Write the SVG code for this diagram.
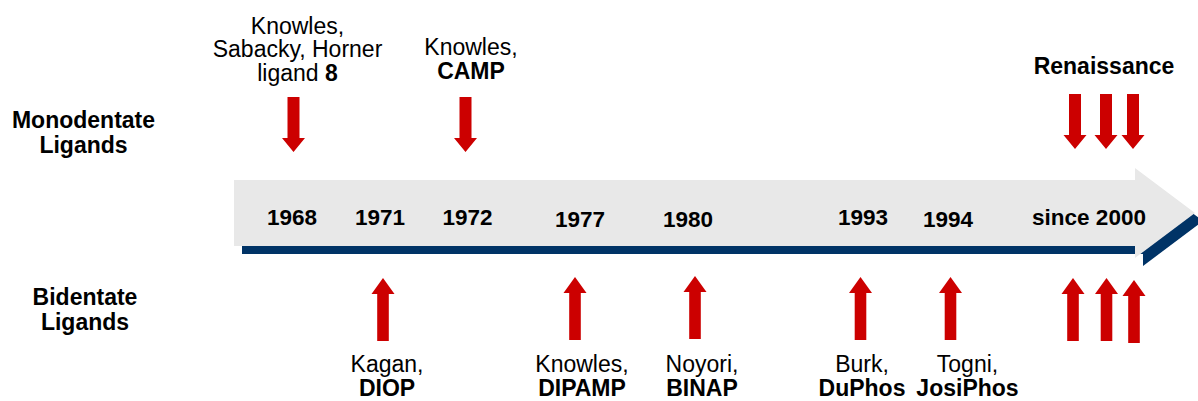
<svg xmlns="http://www.w3.org/2000/svg" width="1198" height="401" viewBox="0 0 1198 401">
<style>
text{font-family:"Liberation Sans",Arial,sans-serif;font-size:23px;fill:#000;text-anchor:middle}
.b{font-weight:bold}
.yr{font-weight:bold;font-size:22.5px}
.red{fill:#cc0000}
</style>
<defs>
<path id="dn" d="M-6,-55 H6 V-14 H11.5 L0,0 L-11.5,-14 H-6 Z"/>
<path id="up" d="M-5.8,63 H5.8 V16 H11.5 L0,0 L-11.5,16 H-5.8 Z"/>
</defs>
<rect width="1198" height="401" fill="#fff"/>
<g id="timeline">
<polygon fill="#003366" points="242,188 1143,188 1143,176 1203,221 1143,266 1143,254 242,254"/>
<polygon fill="#e8e8e8" points="234,180 1135,180 1135,168 1195,213 1135,258 1135,246 234,246"/>
</g>
<g id="years">
<text class="yr" x="292" y="225">1968</text>
<text class="yr" x="380" y="225">1971</text>
<text class="yr" x="467.5" y="225">1972</text>
<text class="yr" x="580" y="227">1977</text>
<text class="yr" x="688" y="227">1980</text>
<text class="yr" x="863" y="225">1993</text>
<text class="yr" x="948" y="227">1994</text>
<text class="yr" x="1089" y="225">since 2000</text>
</g>
<g id="label-mono"><text class="b" x="83.5" y="128">Monodentate<tspan x="83.5" dy="25">Ligands</tspan></text></g>
<g id="label-bi"><text class="b" x="85" y="305">Bidentate<tspan x="85" dy="25">Ligands</tspan></text></g>
<g id="n1968"><text x="297.5" y="33.5">Knowles,<tspan x="297.5" dy="23.5">Sabacky, Horner</tspan><tspan x="297.5" dy="23.5">ligand <tspan class="b">8</tspan></tspan></text></g>
<g id="n1972"><text x="471" y="55">Knowles,<tspan class="b" x="471" dy="24">CAMP</tspan></text></g>
<g id="renaissance"><text class="b" x="1104" y="74">Renaissance</text></g>
<g id="n1971"><text x="387" y="372">Kagan,<tspan class="b" x="387" dy="24">DIOP</tspan></text></g>
<g id="n1977"><text x="582" y="372">Knowles,<tspan class="b" x="582" dy="24">DIPAMP</tspan></text></g>
<g id="n1980"><text x="702" y="372">Noyori,<tspan class="b" x="702" dy="24">BINAP</tspan></text></g>
<g id="n1993"><text x="862" y="372">Burk,<tspan class="b" x="862" dy="24">DuPhos</tspan></text></g>
<g id="n1994"><text x="967.5" y="372">Togni,<tspan class="b" x="967.5" dy="24">JosiPhos</tspan></text></g>
<g id="connectors" class="red">
<use href="#dn" x="293.5" y="152"/>
<use href="#dn" x="465.5" y="152"/>
<use href="#dn" x="1075" y="149"/>
<use href="#dn" x="1106" y="149"/>
<use href="#dn" x="1133" y="149"/>
<use href="#up" x="383" y="278"/>
<use href="#up" x="575" y="277"/>
<use href="#up" x="695" y="276"/>
<use href="#up" x="860.5" y="277"/>
<use href="#up" x="950.5" y="277"/>
<use href="#up" x="1073" y="278"/>
<use href="#up" x="1106.5" y="278"/>
<use href="#up" x="1134" y="280"/>
</g>
</svg>
